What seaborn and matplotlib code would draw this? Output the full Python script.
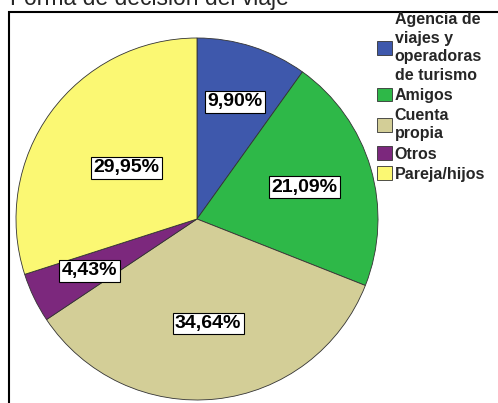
import numpy as np
import matplotlib
matplotlib.use("Agg")
import matplotlib.pyplot as plt
import matplotlib.patches as mpatches
import seaborn as sns

sns.set_theme(style="white")
plt.rcParams['font.family'] = ['Liberation Sans', 'DejaVu Sans']

title = "Forma de decisión del viaje"
categories = ["Agencia de\nviajes y\noperadoras\nde turismo", "Amigos", "Cuenta\npropia", "Otros", "Pareja/hijos"]
values = [9.90, 21.09, 34.64, 4.43, 29.95]
colors = ["#3E58AC", "#2EB848", "#D3CE97", "#7C287D", "#FBF873"]
label_dist = [0.68, 0.62, 0.58, 0.66, 0.48]

fig = plt.figure(figsize=(4.98, 4.03), dpi=100)
W, H = 498, 403
cx, cy, r = 197, 219, 181
ax = fig.add_axes([(cx - r) / W, (H - cy - r) / H, 2 * r / W, 2 * r / H])

wedges, _ = ax.pie(values, colors=colors, startangle=90, counterclock=False,
                   wedgeprops=dict(edgecolor="#333333", linewidth=0.6))
ax.set_xlim(-1, 1)
ax.set_ylim(-1, 1)
ax.set_aspect('equal')
ax.axis('off')

for w, v, d in zip(wedges, values, label_dist):
    ang = np.deg2rad((w.theta1 + w.theta2) / 2)
    txt = ("%.2f%%" % v).replace(".", ",")
    ax.text(d * np.cos(ang), d * np.sin(ang), txt, ha='center', va='center',
            fontsize=14, fontweight='bold', color='black',
            bbox=dict(boxstyle='square,pad=0.12', facecolor='white', edgecolor='black', linewidth=0.8))

# frame around plot area
frame = mpatches.Rectangle((9 / W, -0.1), 1.2, 1.1 - 12 / H, transform=fig.transFigure,
                           fill=False, edgecolor='black', linewidth=1.5, clip_on=False)
fig.patches.append(frame)

fig.text(10 / W, 1 - 5 / H, title, ha='left', va='baseline', fontsize=16.5)

handles = [mpatches.Patch(facecolor=c, edgecolor='#333333', linewidth=0.6) for c in colors]
leg = fig.legend(handles, categories, loc='upper left', bbox_to_anchor=(377 / W, 1 - 12 / H),
                 frameon=False, prop=dict(size=11.5, weight='bold'),
                 handlelength=0.95, handleheight=0.95, handletextpad=0.15,
                 labelspacing=0.3, borderpad=0, borderaxespad=0)
for t in leg.get_texts():
    t.set_linespacing(1.3)

fig.savefig("out.png", dpi=100)
